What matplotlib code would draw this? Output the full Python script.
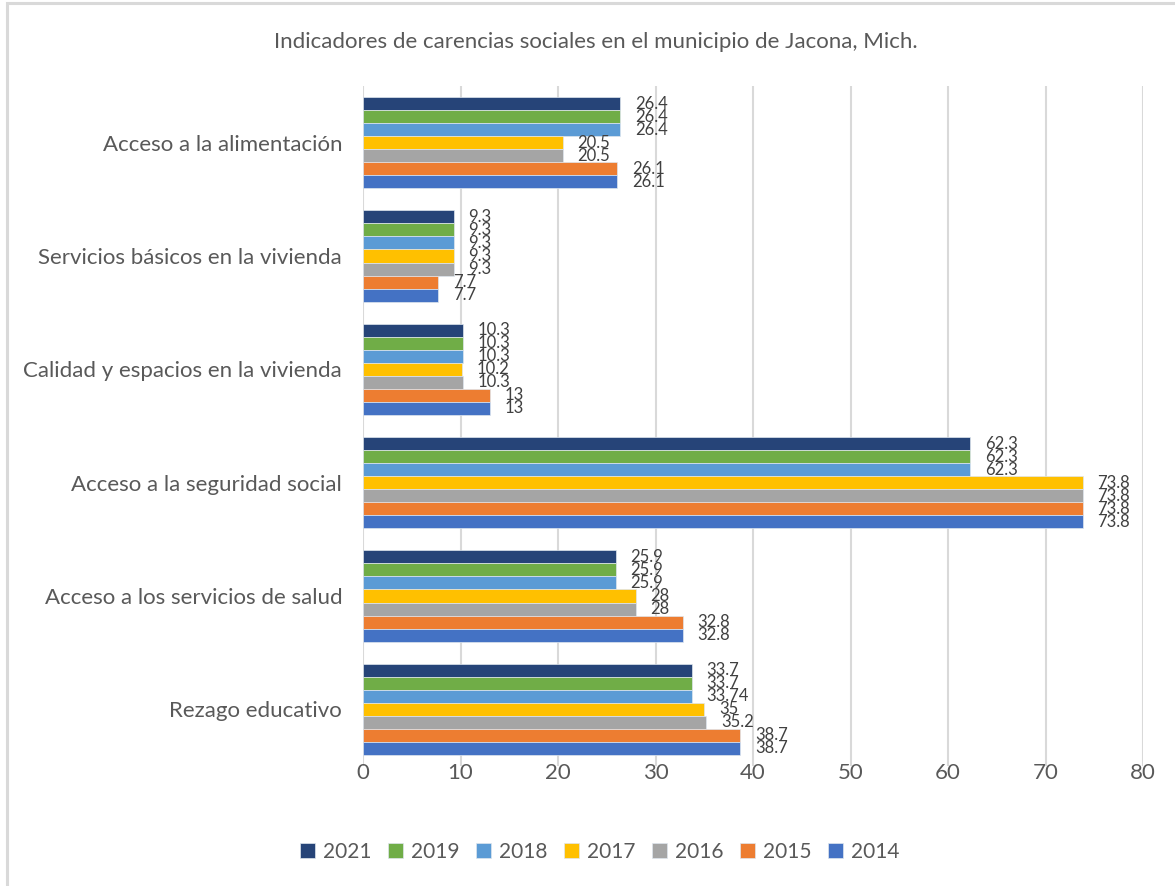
import numpy as np
import matplotlib.pyplot as plt
from matplotlib.patches import Rectangle

# ---------------- Data ----------------
categories = [
    "Acceso a la alimentación",
    "Servicios básicos en la vivienda",
    "Calidad y espacios en la vivienda",
    "Acceso a la seguridad social",
    "Acceso a los servicios de salud",
    "Rezago educativo",
]
years = ["2021", "2019", "2018", "2017", "2016", "2015", "2014"]
v2021 = [26.4, 9.3, 10.3, 62.3, 25.9, 33.7]
v2019 = [26.4, 9.3, 10.3, 62.3, 25.9, 33.7]
v2018 = [26.4, 9.3, 10.3, 62.3, 25.9, 33.74]
v2017 = [20.5, 9.3, 10.2, 73.8, 28, 35]
v2016 = [20.5, 9.3, 10.3, 73.8, 28, 35.2]
v2015 = [26.1, 7.7, 13, 73.8, 32.8, 38.7]
v2014 = [26.1, 7.7, 13, 73.8, 32.8, 38.7]
series = [v2021, v2019, v2018, v2017, v2016, v2015, v2014]
colors = ["#264478", "#70AD47", "#5B9BD5", "#FFC000", "#A5A5A5", "#ED7D31", "#4472C4"]
xticks = [0, 10, 20, 30, 40, 50, 60, 70, 80]

txt = "#595959"
plt.rcParams["font.family"] = ["Lato", "DejaVu Sans"]

# ---------------- Figure ----------------
fig = plt.figure(figsize=(11.75, 8.86), dpi=100)
ax = fig.add_axes([363 / 1175, 1 - 766 / 886, 780 / 1175, 680 / 886])

# outer chart border (right and bottom edges fall outside the image)
fig.patches.append(Rectangle((7 / 1175, -0.2), 1.2, 1.2 - 3 / 886,
                             transform=fig.transFigure, fill=False,
                             edgecolor="#d9d9d9", linewidth=2.2, clip_on=False))

n = len(series)
bh = 0.115
y = np.arange(len(categories))
for j, (vals, col) in enumerate(zip(series, colors)):
    pos = y - (n - 1) / 2 * bh + j * bh
    ax.barh(pos, vals, height=bh, color=col, edgecolor="#dfe6ee",
            linewidth=0.5, label=years[j], zorder=3)
    for p, v in zip(pos, vals):
        ax.text(v + 1.5, p, f"{v:g}", va="center", ha="left",
                fontsize=12, color="#404040", zorder=4)

ax.set_ylim(len(categories) - 0.5, -0.5)
ax.set_xlim(0, 80)
ax.set_xticks(xticks)
ax.set_yticks(y)
ax.set_yticklabels(categories)
ax.tick_params(axis="y", length=0, pad=15, labelsize=16, labelcolor=txt)
ax.tick_params(axis="x", length=0, pad=-2, labelsize=16, labelcolor=txt)
ax.grid(axis="x", color="#d9d9d9", linewidth=1.5, zorder=0)
for s in ax.spines.values():
    s.set_visible(False)

fig.text(596 / 1175, 1 - 42 / 886,
         "Indicadores de carencias sociales en el municipio de Jacona, Mich.",
         ha="center", va="center", fontsize=16, color=txt)

fig.legend(loc="center", bbox_to_anchor=(600 / 1175, 1 - 852 / 886), ncol=7,
           frameon=False, fontsize=15, labelcolor=txt, handlelength=0.7,
           handleheight=0.7, handletextpad=0.4, columnspacing=0.8)

fig.savefig("out.png", dpi=100)
